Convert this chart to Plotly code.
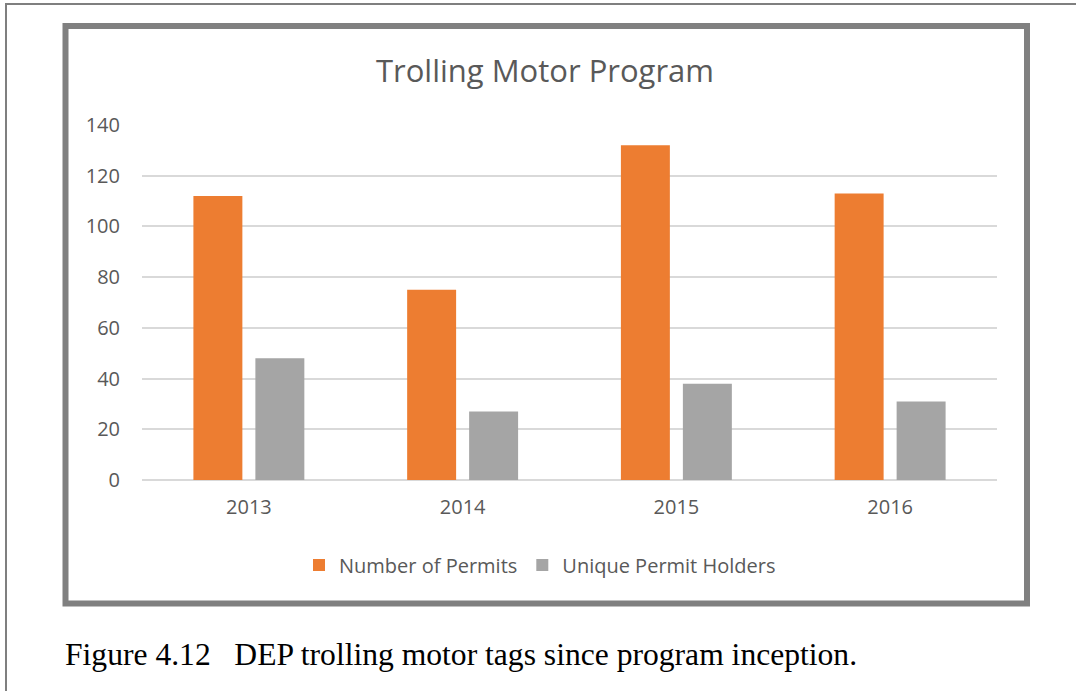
import plotly.graph_objects as go

# === Data ===
YEARS = ['2013', '2014', '2015', '2016']
NUM_PERMITS = [112, 75, 132, 113]
UNIQUE_HOLDERS = [48, 27, 38, 31]
Y_TICKS = [0, 20, 40, 60, 80, 100, 120, 140]

TITLE = "Trolling Motor Program"
CAPTION = "Figure 4.12\u00a0\u00a0\u00a0DEP trolling motor tags since program inception."

# === Layout geometry (pixels) ===
W, H = 1076, 691
PLOT_L, PLOT_R = 142, 997
PLOT_T, PLOT_B = 125, 480
TEXT_GREY = '#595959'
FONT = 'Open Sans'


def px_x(px):
    return (px - PLOT_L) / (PLOT_R - PLOT_L)


def px_y(py):
    return (PLOT_B - py) / (PLOT_B - PLOT_T)


fig = go.Figure()
fig.add_trace(go.Bar(x=YEARS, y=NUM_PERMITS, name='Number of Permits',
                     marker=dict(color='#ED7D31', line=dict(width=0))))
fig.add_trace(go.Bar(x=YEARS, y=UNIQUE_HOLDERS, name='Unique Permit Holders',
                     marker=dict(color='#A5A5A5', line=dict(width=0))))

# Frames: outer page frame and thick chart border
fig.add_shape(type='rect', xref='paper', yref='paper',
              x0=px_x(6), x1=px_x(1090), y0=px_y(700), y1=px_y(4),
              line=dict(color='#7f7f7f', width=2), layer='below')
fig.add_shape(type='rect', xref='paper', yref='paper',
              x0=px_x(65.5), x1=px_x(1027), y0=px_y(603.5), y1=px_y(26),
              line=dict(color='#808080', width=6), layer='below')

fig.add_annotation(text=CAPTION, xref='paper', yref='paper',
                   x=px_x(63), y=px_y(654), xanchor='left', yanchor='middle',
                   showarrow=False,
                   font=dict(family='Liberation Serif', size=31.6, color='#000000'))

fig.update_layout(
    width=W, height=H,
    margin=dict(l=PLOT_L, r=W - PLOT_R, t=PLOT_T, b=H - PLOT_B, pad=0),
    paper_bgcolor='white', plot_bgcolor='white',
    title=dict(text=TITLE, x=545 / W, y=1 - 71 / H, xanchor='center', yanchor='middle',
               xref='container', yref='container',
               font=dict(family=FONT, size=31, color=TEXT_GREY)),
    barmode='group', bargap=0.42, bargroupgap=0.21,
    showlegend=True,
    legend=dict(orientation='h', x=px_x(540), y=px_y(565), xanchor='center', yanchor='middle',
                font=dict(family=FONT, size=20, color=TEXT_GREY), itemwidth=30,
                bgcolor='rgba(0,0,0,0)'),
    font=dict(family=FONT, color=TEXT_GREY),
)

fig.update_xaxes(showgrid=False, showline=False, ticks='', ticklabelstandoff=13,
                 tickfont=dict(family=FONT, size=20, color=TEXT_GREY))
fig.update_yaxes(range=[0, 140], tickvals=Y_TICKS, showgrid=True, gridcolor='#d9d9d9',
                 gridwidth=1.5, zeroline=True, zerolinecolor='#d9d9d9', zerolinewidth=1.5,
                 showline=False, ticks='', ticklabelstandoff=21,
                 tickfont=dict(family=FONT, size=20, color=TEXT_GREY))

# page body has a default 8px margin; drop it so the figure sits at the window corner
fig.write_html("out.html", config={'displayModeBar': False},
               post_script="document.body.style.margin='0';")
